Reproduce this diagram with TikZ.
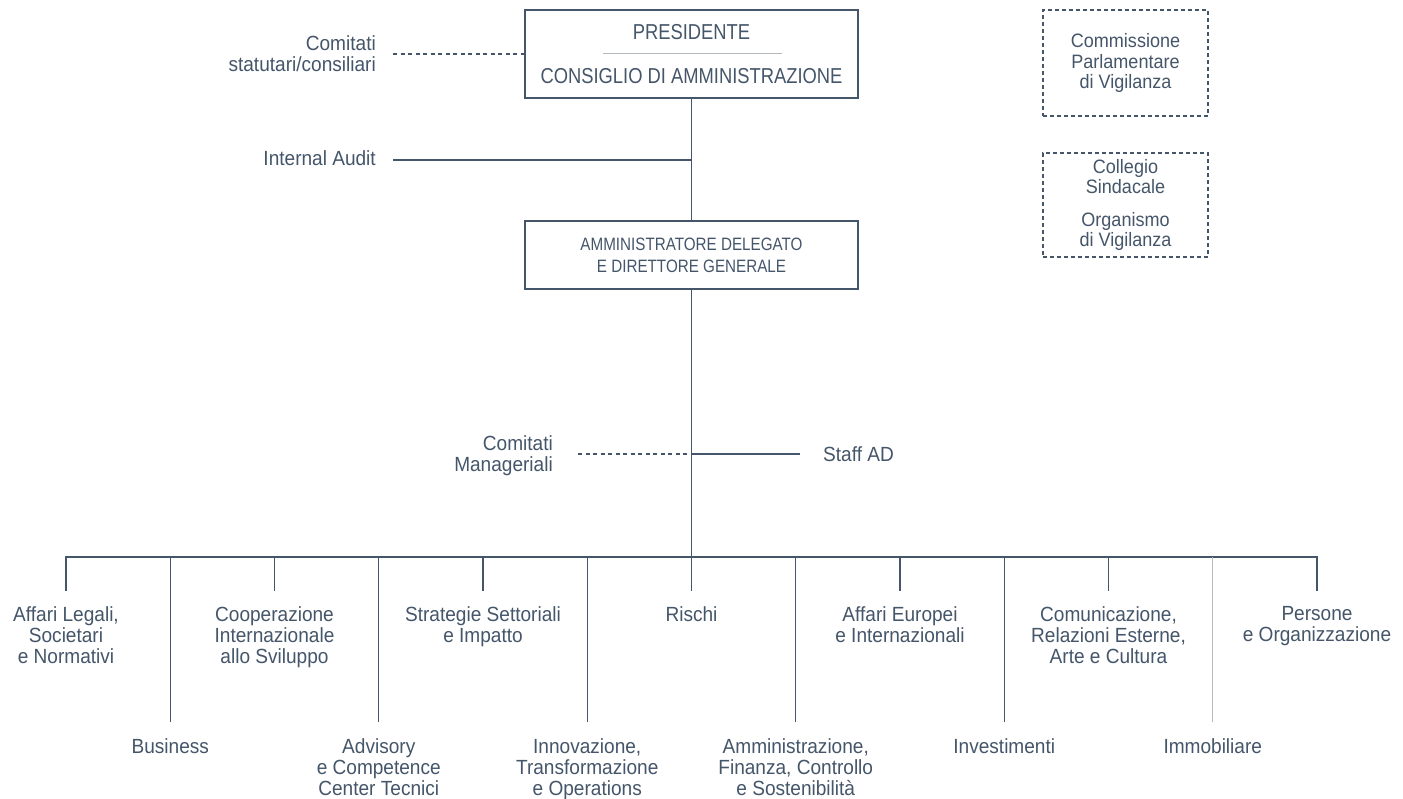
\documentclass[tikz,border=0pt]{standalone}
\usepackage{fontspec}
\setmainfont{Liberation Sans}[FakeStretch=0.93]
\newfontfamily\capsfam{Liberation Sans}[FakeStretch=0.85]
\definecolor{ink}{HTML}{45566A}
\definecolor{faint}{HTML}{B4B9BE}
\begin{document}
\begin{tikzpicture}[x=1pt,y=-1pt,
  lbl/.style={text=ink,font=\fontsize{20.5}{21}\selectfont,align=center,inner sep=0pt},
  capfont/.style={font=\capsfam\fontsize{21.6}{21}\selectfont},
  boxnode/.style={draw=ink,line width=1.1pt,minimum width=333pt,inner sep=0pt},
  dbox/.style={draw=ink,line width=1.1pt,dash pattern=on 4pt off 3pt,minimum width=165pt,
    align=center,text=ink,font=\fontsize{19.4}{20.5}\selectfont,inner sep=0pt},
  con/.style={draw=ink,line width=1.2pt},
  fcon/.style={draw=faint,line width=1.2pt},
  dcon/.style={draw=ink,line width=1.2pt,dash pattern=on 4pt off 3.5pt}]
\useasboundingbox (0,0) rectangle (1403,798);
\fill[white] (0,0) rectangle (1403,798);

% top box
\node[boxnode,minimum height=88pt] (pres) at (691.5,54) {};
\node[lbl,capfont,anchor=base] (prest) at (691.5,39.5) {PRESIDENTE};
\node[lbl,capfont,anchor=base] (cdat) at (691.5,83.5) {CONSIGLIO DI AMMINISTRAZIONE};
\coordinate (rl) at (603,53);
\coordinate (rr) at (782,53);
\draw[draw=faint,line width=1pt] (rl) -- (rr);

% AD box
\node[boxnode,minimum height=68pt] (ad) at (691.5,255) {};
\node[lbl,font=\capsfam\fontsize{17.9}{22}\selectfont] (adt) at (ad.center) {AMMINISTRATORE DELEGATO\\E DIRETTORE GENERALE};

% right boxes
\node[dbox,minimum height=106pt] (cpv) at (1125.5,63) {Commissione\\Parlamentare\\di Vigilanza};
\node[dbox,minimum height=104pt] (csov) at (1125.5,205) {Collegio\\Sindacale\\[12pt]Organismo\\di Vigilanza};

% left labels
\node[lbl,anchor=north east,align=right] (cs) at (376,35) {Comitati\\statutari/consiliari};
\node[lbl,anchor=base east] (ia) at (376,165) {Internal Audit};
\node[lbl,anchor=north east,align=right] (cmg) at (553,435) {Comitati\\Manageriali};
\node[lbl,anchor=base west] (staff) at (823,461) {Staff AD};

\coordinate (iaj) at (691.5,160);
\coordinate (cmj) at (691.5,454);
\coordinate (bus) at (691.5,557);
\path ([xshift=17pt]cs.east) coordinate (cse);
\path ([xshift=17pt]ia.east) coordinate (iae);
\path ([xshift=25pt]cmg.east) coordinate (cmge);
\path ([xshift=-23pt]staff.west) coordinate (stw);

\draw[dcon] (cse |- pres.west) -- (pres.west);
\draw[con] (pres.south) -- (ad.north);
\draw[con] (iae |- iaj) -- (iaj);
\draw[con] (ad.south) -- (bus);
\draw[dcon] (cmge |- cmj) -- (cmj);
\draw[con] (cmj) -- (stw |- cmj);

% top row
\node[lbl,anchor=north] (c1) at (66,606) {Affari Legali,\\Societari\\e Normativi};
\node[lbl,anchor=north] (c3) at (274.5,606) {Cooperazione\\Internazionale\\allo Sviluppo};
\node[lbl,anchor=north] (c5) at (483,606) {Strategie Settoriali\\e Impatto};
\node[lbl,anchor=north] (c7) at (691.5,606) {Rischi};
\node[lbl,anchor=north] (c9) at (900,606) {Affari Europei\\e Internazionali};
\node[lbl,anchor=north] (c11) at (1108.5,606) {Comunicazione,\\Relazioni Esterne,\\Arte e Cultura};
\node[lbl,anchor=north] (c13) at (1317,606) {Persone\\e Organizzazione};
% bottom row
\node[lbl,anchor=north] (c2) at (170.25,738) {Business};
\node[lbl,anchor=north] (c4) at (378.75,738) {Advisory\\e Competence\\Center Tecnici};
\node[lbl,anchor=north] (c6) at (587.25,738) {Innovazione,\\Transformazione\\e Operations};
\node[lbl,anchor=north] (c8) at (795.75,738) {Amministrazione,\\Finanza, Controllo\\e Sostenibilità};
\node[lbl,anchor=north] (c10) at (1004.25,738) {Investimenti};
\node[lbl,anchor=north] (c12) at (1212.75,738) {Immobiliare};

% bus and drops
\draw[con] ([yshift=15pt]c1.north) -- (c1 |- bus) -- (c13 |- bus) -- ([yshift=15pt]c13.north);
\foreach \n in {c3,c5,c7,c9,c11}
  \draw[con] (\n |- bus) -- ([yshift=15pt]\n.north);
\foreach \n in {c2,c4,c6,c8,c10}
  \draw[con] (\n |- bus) -- ([yshift=16pt]\n.north);
\draw[fcon] (c12 |- bus) -- ([yshift=16pt]c12.north);
\end{tikzpicture}
\end{document}
